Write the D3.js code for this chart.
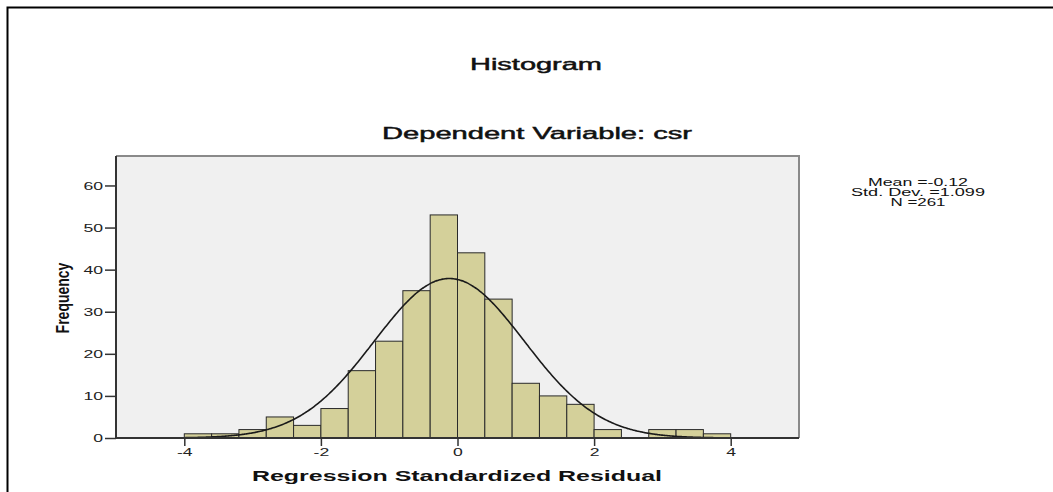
<!DOCTYPE html>
<html><head><meta charset="utf-8">
<script src="https://cdn.jsdelivr.net/npm/d3@7"></script>
<style>html,body{margin:0;padding:0;background:#fff}svg{display:block;font-family:"Liberation Sans",Arial,sans-serif}</style>
</head><body>
<svg id="c" width="1053" height="492"></svg>
<script>
// Data
const binStarts = [-4.0,-3.6,-3.2,-2.8,-2.4,-2.0,-1.6,-1.2,-0.8,-0.4,0.0,0.4,0.8,1.2,1.6,2.0,2.4,2.8,3.2,3.6];
const counts    = [1,1,2,5,3,7,16,23,35,53,44,33,13,10,8,2,0,2,2,1];
const binWidth = 0.4;
const xTicks = [-4,-2,0,2,4];
const yTicks = [0,10,20,30,40,50,60];
const statMean = -0.12, statSD = 1.099, statN = 261;
const statLines = ["Mean =-0.12","Std. Dev. =1.099","N =261"];
const titleText = "Histogram";
const subtitleText = "Dependent Variable: csr";
const xTitle = "Regression Standardized Residual";
const yTitle = "Frequency";

const SX = 1.6; // horizontal stretch of the original image
const svg = d3.select("#c");

// outer frame (left + top)
svg.append("path").attr("d","M1053,7.5 H7.5 V492").attr("fill","none").attr("stroke","#000").attr("stroke-width",2);

const L=116, R=799, T=156, B=438;
const x = d3.scaleLinear().domain([-5,5]).range([L,R]);
const y = d3.scaleLinear().domain([0,67]).range([B,T]);

// plot background
svg.append("rect").attr("x",L).attr("y",T).attr("width",R-L).attr("height",B-T).attr("fill","#f0f0f0");
// top & right border (gray)
svg.append("path").attr("d",`M${L},${T} H${R} V${B}`).attr("fill","none").attr("stroke","#8a8a8a").attr("stroke-width",2);

// bars
svg.append("g").selectAll("rect").data(binStarts.map((s,i)=>({s,c:counts[i]})).filter(d=>d.c>0))
  .join("rect")
  .attr("x",d=>x(d.s)).attr("width",d=>x(d.s+binWidth)-x(d.s))
  .attr("y",d=>y(d.c)).attr("height",d=>y(0)-y(d.c))
  .attr("fill","#d4d09a").attr("stroke","#2a2a2a").attr("stroke-width",1);

// normal curve
const pts = d3.range(-5,5.0001,0.02).map(v=>{
  const z=(v-statMean)/statSD;
  return [v, statN*binWidth/(statSD*Math.sqrt(2*Math.PI))*Math.exp(-0.5*z*z)];
});
svg.append("path").datum(pts)
  .attr("d",d3.line().x(d=>x(d[0])).y(d=>y(d[1])).curve(d3.curveBasis))
  .attr("fill","none").attr("stroke","#1a1a1a").attr("stroke-width",1.6);

// axes
const yAxis = svg.append("g").attr("transform",`translate(${L},0)`)
  .call(d3.axisLeft(y).tickValues(yTicks).tickSize(11).tickFormat(d3.format("d")));
const xAxis = svg.append("g").attr("transform",`translate(0,${B})`)
  .call(d3.axisBottom(x).tickValues(xTicks).tickSize(8).tickFormat(d=>d));
[yAxis,xAxis].forEach(g=>{
  g.select(".domain").remove();
  g.selectAll(".tick line").attr("stroke","#333").attr("stroke-width",1.5);
  g.selectAll(".tick text").attr("font-size",11).attr("fill","#222").attr("font-family","Liberation Sans, Arial, sans-serif");
});
yAxis.selectAll(".tick text").each(function(){
  d3.select(this).attr("x",null).attr("dy","0.36em").attr("text-anchor","end")
   .attr("transform",`translate(-13,0) scale(${SX},1)`);
});
xAxis.selectAll(".tick text").each(function(){
  d3.select(this).attr("y",null).attr("dy",null).attr("text-anchor","middle")
   .attr("transform",`translate(0,18) scale(${SX},1)`);
});
// axis lines (left & bottom, dark)
svg.append("path").attr("d",`M${L},${T} V${B} H${R}`).attr("fill","none").attr("stroke","#333").attr("stroke-width",2);

// text with a target width (horizontally stretched like the original)
function wtext(txt,cx,by,size,weight,width,extra){
  const t = svg.append("text").attr("x",cx).attr("y",by)
    .attr("text-anchor","middle").attr("font-size",size).attr("font-weight",weight||"normal")
    .attr("fill","#111").text(txt);
  if (width) t.attr("textLength",width).attr("lengthAdjust","spacingAndGlyphs");
  if (extra) t.attr("stroke","#111").attr("stroke-width",extra);
  return t;
}
wtext(titleText,536,70,16,"normal",132,0.45);
wtext(subtitleText,537,139,16,"normal",310,0.45);
wtext(xTitle,457,481,15,"bold",410);
const statW=[100,134,55];
statLines.forEach((s,i)=>wtext(s,918,186+i*10,10,"normal",statW[i]));

// y title rotated
svg.append("text").attr("transform","translate(69,298) scale(1.35,1) rotate(-90)")
  .attr("text-anchor","middle").attr("font-size",14).attr("font-weight","bold").attr("fill","#111").text(yTitle);
</script>
</body></html>
